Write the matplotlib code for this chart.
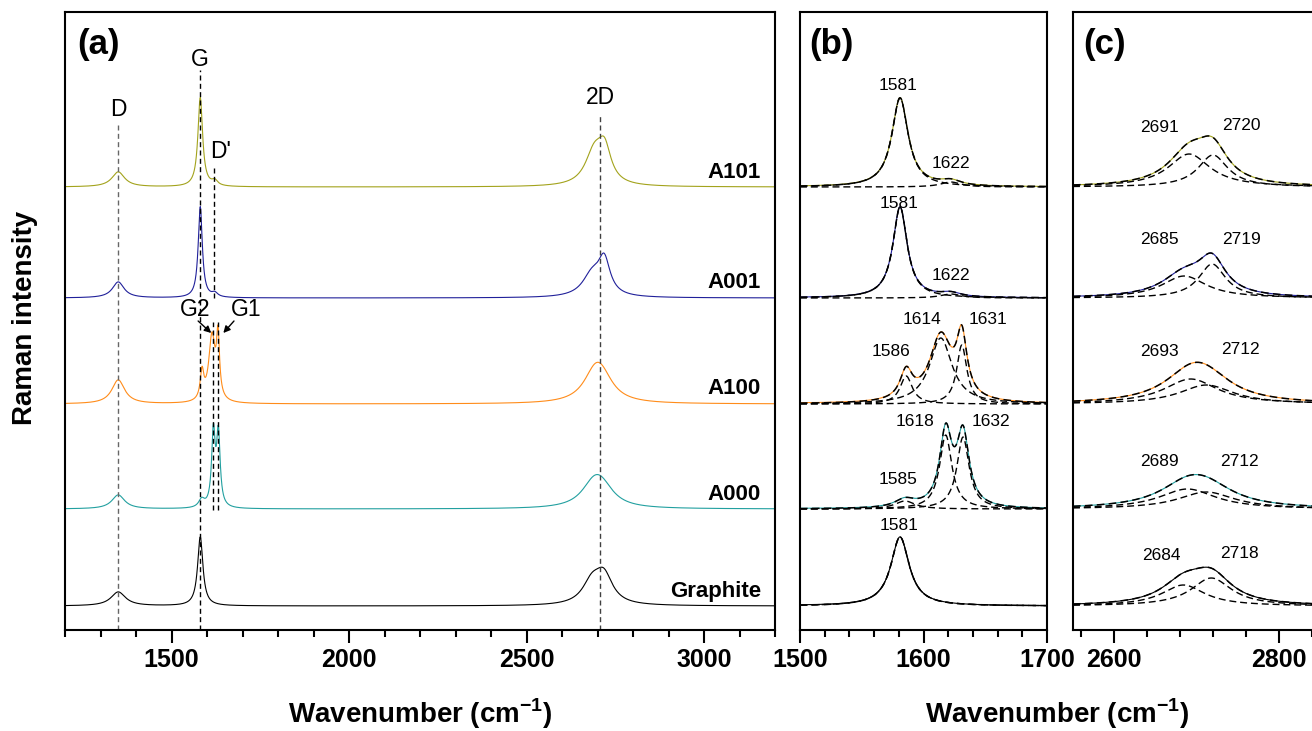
#Raman spectra of the A-series samples and graphite: full range plus G and 2D band fits

# importing required libraries
import matplotlib.pyplot as plt
import numpy as np

plt.rcParams['font.family'] = ['Liberation Sans', 'DejaVu Sans']
plt.rcParams['mathtext.fontset'] = 'custom'
plt.rcParams['mathtext.rm'] = 'Liberation Sans'
plt.rcParams['mathtext.bf'] = 'Liberation Sans:bold'

# samples, top to bottom
samples = ['A101', 'A001', 'A100', 'A000', 'Graphite']
offsets = [443, 332, 226, 121, 24]

# D band (centre, height, half width)
d_center = [1350, 1350, 1350, 1350, 1350]
d_height = [15, 16, 24, 14, 14]
d_hwhm = [22, 20, 22, 22, 25]

# G region components
g_centers = [[1581, 1622], [1581, 1622], [1586, 1614, 1631], [1585, 1618, 1632], [1581]]
g_heights = [[89, 5], [91, 4], [28, 66, 59], [8, 74, 72], [69]]
g_hwhm = [[8, 10], [7, 10], [6, 11, 5], [10, 6, 6], [9]]

# 2D band components
d2_centers = [[2691, 2720], [2685, 2719], [2693, 2712], [2689, 2712], [2684, 2718]]
d2_heights = [[33, 32], [22, 34], [25, 19], [20, 17], [21, 28]]
d2_hwhm = [[31, 22], [33, 20], [40, 40], [42, 42], [32, 30]]

colors = ['#a3a31c', '#20209a', '#ff8c1a', '#22a0a0', 'black']

W, H = 1312, 731


#lorentzian line shape
def lorentz(x, c, h, w):
    return h * w**2 / ((x - c)**2 + w**2)


#sum of a list of peaks
def peak_sum(x, centers, heights, widths):
    y = np.zeros_like(x)
    for c, h, w in zip(centers, heights, widths):
        y = y + lorentz(x, c, h, w)
    return y


#common axis styling: only the bottom axis carries ticks
def style_axis(ax, xlim, major, minor):
    ax.set_xlim(*xlim)
    ax.set_ylim(0, 618)
    ax.set_yticks([])
    ax.xaxis.set_major_locator(plt.MultipleLocator(major))
    ax.xaxis.set_minor_locator(plt.MultipleLocator(minor))
    ax.tick_params(axis='x', which='major', direction='out', length=9.4, width=1.5,
                   pad=3.5, labelsize=18)
    ax.tick_params(axis='x', which='minor', direction='out', length=4.7, width=1.5)
    for lab in ax.get_xticklabels():
        lab.set_fontweight('bold')
    for s in ax.spines.values():
        s.set_linewidth(1.5)


def box(l, r):
    return [l / W, 101 / H, (r - l) / W, 618 / H]


fig = plt.figure(figsize=(13.12, 7.31), dpi=100)
ax_a = fig.add_axes(box(65, 775))
ax_b = fig.add_axes(box(800, 1047))
ax_c = fig.add_axes(box(1073, 1320))

x_a = np.arange(1200, 3200.5, 1.0)
x_b = np.arange(1500, 1700.1, 0.5)
x_c = np.arange(2550, 2850.1, 0.5)

fit_ls = (0, (5, 2.8))

for i, name in enumerate(samples):
    off = offsets[i]
    # full spectrum
    y_a = (off + lorentz(x_a, d_center[i], d_height[i], d_hwhm[i])
           + peak_sum(x_a, g_centers[i], g_heights[i], g_hwhm[i])
           + peak_sum(x_a, d2_centers[i], d2_heights[i], d2_hwhm[i]))
    ax_a.plot(x_a, y_a, color=colors[i], lw=0.8)
    ax_a.text(3160, off + 15, name, ha='right', va='center', fontsize=16, fontweight='bold')

    # G region with fitted components
    y_b = (off + lorentz(x_b, d_center[i], d_height[i], d_hwhm[i])
           + peak_sum(x_b, g_centers[i], g_heights[i], g_hwhm[i]))
    ax_b.plot(x_b, y_b, color=colors[i], lw=0.8)
    ax_b.plot(x_b, off + peak_sum(x_b, g_centers[i], g_heights[i], g_hwhm[i]),
              color='black', lw=1.1, ls=fit_ls)
    for c, h, w in zip(g_centers[i], g_heights[i], g_hwhm[i]):
        ax_b.plot(x_b, off + lorentz(x_b, c, h, w), color='black', lw=1.0, ls=fit_ls)

    # 2D band with fitted components
    y_c = off + peak_sum(x_c, d2_centers[i], d2_heights[i], d2_hwhm[i])
    ax_c.plot(x_c, y_c, color=colors[i], lw=0.8)
    ax_c.plot(x_c, y_c, color='black', lw=1.1, ls=fit_ls)
    for c, h, w in zip(d2_centers[i], d2_heights[i], d2_hwhm[i]):
        ax_c.plot(x_c, off + lorentz(x_c, c, h, w), color='black', lw=1.0, ls=fit_ls)

# peak position labels in (b) and (c)
b_label_pos = [[(1579.5, 545), (1622.5, 467)],
               [(1580, 427), (1622.5, 354)],
               [(1573.5, 279), (1598.7, 311), (1652.5, 311)],
               [(1579, 151), (1593, 208), (1654.7, 209)],
               [(1580, 104)]]
c_label_pos = [[(2654.5, 503), (2755, 505)],
               [(2654.5, 390), (2755, 391)],
               [(2654.5, 278), (2753, 280)],
               [(2654.5, 168), (2752, 169)],
               [(2657, 74), (2752, 76)]]
for i in range(len(samples)):
    for c, (tx, ty) in zip(g_centers[i], b_label_pos[i]):
        ax_b.text(tx, ty, str(c), ha='center', va='center', fontsize=12.5)
    for c, (tx, ty) in zip(d2_centers[i], c_label_pos[i]):
        ax_c.text(tx, ty, str(c), ha='center', va='center', fontsize=12.5)

# band markers in (a)
vdash = (0, (3.6, 2.4))
ax_a.vlines(1350, 0, 505, color='0.4', lw=1, linestyles=[vdash])
ax_a.vlines(1581, 0, 560, color='black', lw=1, linestyles=[vdash])
ax_a.vlines(1621, 332, 462, color='black', lw=1, linestyles=[vdash])
ax_a.vlines([1617, 1632], 120, 308, color='black', lw=1, linestyles=[vdash])
ax_a.vlines(2707, 0, 515, color='0.25', lw=1, linestyles=[vdash])

ax_a.text(1350, 520, 'D', ha='center', va='center', fontsize=16.5)
ax_a.text(1581, 570, 'G', ha='center', va='center', fontsize=16.5)
ax_a.text(1608, 478, "D'", ha='left', va='center', fontsize=16.5)
ax_a.text(2707, 533, '2D', ha='center', va='center', fontsize=16.5)
ax_a.text(1566, 320, 'G2', ha='center', va='center', fontsize=16.5)
ax_a.text(1709, 320, 'G1', ha='center', va='center', fontsize=16.5)
arrow = dict(arrowstyle='-|>', color='black', lw=1, mutation_scale=10, shrinkA=0, shrinkB=0)
ax_a.annotate('', xy=(1612, 297), xytext=(1575, 309), arrowprops=arrow)
ax_a.annotate('', xy=(1646, 297), xytext=(1676, 309), arrowprops=arrow)

style_axis(ax_a, (1200, 3200), 500, 100)
style_axis(ax_b, (1500, 1700), 100, 20)
style_axis(ax_c, (2550, 2850), 200, 40)

for ax, lab, fx in [(ax_a, '(a)', 0.017), (ax_b, '(b)', 0.036), (ax_c, '(c)', 0.04)]:
    ax.text(fx, 0.948, lab, transform=ax.transAxes, ha='left', va='center',
            fontsize=25, fontweight='bold')

xlab = r'Wavenumber (cm$^{\mathbf{-1}}$)'
fig.text(420 / W, 1 - 714 / H, xlab, ha='center', va='center', fontsize=20, fontweight='bold')
fig.text(1057 / W, 1 - 714 / H, xlab, ha='center', va='center', fontsize=20, fontweight='bold')
fig.text(25 / W, 1 - 318 / H, 'Raman intensity', ha='center', va='center', rotation=90,
         fontsize=20, fontweight='bold')

fig.savefig('out.png', dpi=100)
